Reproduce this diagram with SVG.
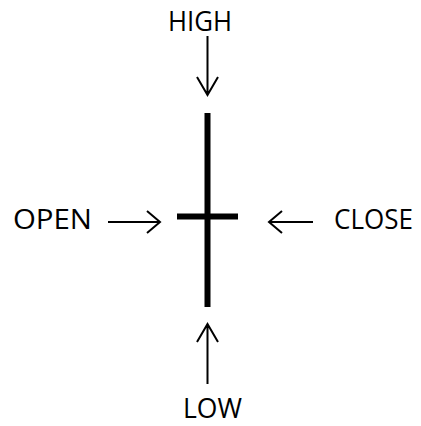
<svg xmlns="http://www.w3.org/2000/svg" width="421" height="426" viewBox="0 0 421 426">
<style>
.lbl{font-family:"Open Sans","Noto Sans","Liberation Sans",sans-serif;font-size:27px;fill:#000}
.arr{stroke:#000;stroke-width:2;fill:none}
.candle{stroke:#000;stroke-width:6;fill:none}
</style>
<rect width="421" height="426" fill="#fff"/>
<g id="candle">
<line class="candle" x1="207.5" y1="113" x2="207.5" y2="307"/>
<line class="candle" x1="177" y1="216.5" x2="238" y2="216.5"/>
</g>
<g id="high"><text class="lbl" x="200" y="31" text-anchor="middle" textLength="64" lengthAdjust="spacingAndGlyphs">HIGH</text></g>
<g id="open"><text class="lbl" x="13" y="229" textLength="79" lengthAdjust="spacingAndGlyphs">OPEN</text></g>
<g id="close"><text class="lbl" x="334" y="229" textLength="79" lengthAdjust="spacingAndGlyphs">CLOSE</text></g>
<g id="low"><text class="lbl" x="183" y="418" textLength="59" lengthAdjust="spacingAndGlyphs">LOW</text></g>
<g id="connectors">
<path class="arr" d="M207.5 36 V95 M197 77 L207.5 95 L218 77"/>
<path class="arr" d="M207.5 384 V324 M197 342 L207.5 324 L218 342"/>
<path class="arr" d="M108 222 H160 M147 211 L160 222 L147 233"/>
<path class="arr" d="M313 222 H269 M282 211 L269 222 L282 233"/>
</g>
</svg>
